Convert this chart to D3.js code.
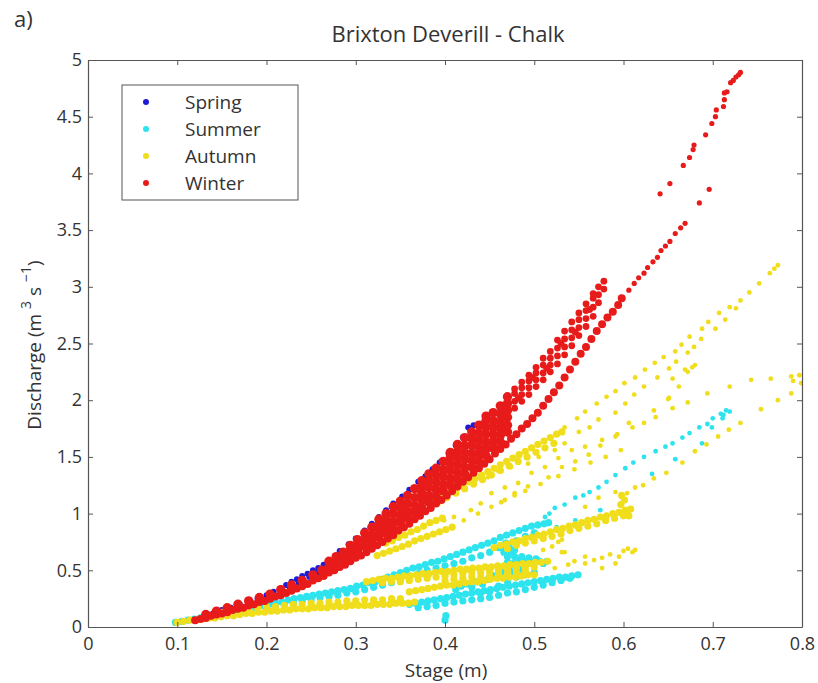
<!DOCTYPE html>
<html>
<head>
<meta charset="utf-8">
<script src="https://cdn.jsdelivr.net/npm/d3@7"></script>
<style>
  body { margin: 0; background: #fff; }
  text { font-family: "Open Sans", sans-serif; fill: #333; }
</style>
</head>
<body>
<svg id="chart"></svg>
<script>
// axis ticks
const xTicks = [0, 0.1, 0.2, 0.3, 0.4, 0.5, 0.6, 0.7, 0.8];
const yTicks = [0, 0.5, 1, 1.5, 2, 2.5, 3, 3.5, 4, 4.5, 5];

const seasons = ["Spring", "Summer", "Autumn", "Winter"];
const seasonColors = ["#1c1cd6", "#2de3ee", "#f0de1c", "#e81b1b"];

// [stage (m), discharge (m3/s)]
const springPts = [[0.140,0.12],[0.150,0.15],[0.160,0.17],[0.170,0.20],[0.180,0.22],[0.190,0.25],[0.200,0.28],[0.208,0.31],[0.216,0.34],[0.222,0.37],[0.228,0.40],[0.234,0.42],[0.240,0.45],[0.246,0.47],[0.252,0.50],[0.258,0.52],[0.264,0.55],[0.270,0.58],[0.226,0.35],[0.236,0.39],[0.248,0.44],[0.258,0.48],[0.268,0.52],[0.276,0.57],
  [0.282,0.67],[0.292,0.73],[0.300,0.78],[0.310,0.85],[0.318,0.91],[0.326,0.97],[0.334,1.03],[0.342,1.09],[0.352,1.15],[0.360,1.21],[0.370,1.28],[0.378,1.33],[0.386,1.39],[0.394,1.45],[0.404,1.53],[0.412,1.60],[0.420,1.67],[0.426,1.76],[0.432,1.78],[0.440,1.79],[0.447,1.77],[0.455,1.82]];

const summerMain = [[0.098,0.04],[0.105,0.05],[0.112,0.06],[0.119,0.07],[0.126,0.08],[0.133,0.09],[0.140,0.10],[0.147,0.11],[0.154,0.12],[0.161,0.13],[0.168,0.14],[0.175,0.15],[0.182,0.17],[0.189,0.18],[0.196,0.19],[0.203,0.20],[0.210,0.21],[0.217,0.22],[0.224,0.24],[0.231,0.25],[0.238,0.26],[0.245,0.27],[0.252,0.28],[0.259,0.29],[0.266,0.30],[0.273,0.31],[0.280,0.32],[0.287,0.33],[0.294,0.34],[0.301,0.36],[0.308,0.37],[0.315,0.39],[0.322,0.40],[0.329,0.42],[0.336,0.44],[0.343,0.46],[0.350,0.48],[0.357,0.50],[0.364,0.52],[0.371,0.53],[0.378,0.55],[0.385,0.57],[0.392,0.58],[0.399,0.60],[0.406,0.62],[0.413,0.64],[0.420,0.66],[0.427,0.68],[0.434,0.70],[0.441,0.72],[0.448,0.74],[0.455,0.76],[0.462,0.79],[0.469,0.81],[0.476,0.83],[0.483,0.85],[0.490,0.87],[0.497,0.89],[0.504,0.90],[0.511,0.91],[0.516,0.92],
  [0.170,0.12],[0.180,0.14],[0.190,0.15],[0.200,0.17],[0.210,0.18],[0.220,0.20],[0.230,0.21],[0.240,0.23],[0.250,0.24],[0.260,0.26],[0.270,0.27],[0.280,0.28],[0.290,0.30],[0.300,0.31],[0.310,0.33],[0.320,0.35],[0.330,0.37],[0.340,0.39],[0.350,0.43],[0.360,0.45],[0.370,0.47],[0.380,0.50],[0.390,0.52],[0.400,0.54],[0.410,0.56],[0.420,0.58],[0.430,0.61],[0.440,0.63],[0.450,0.66],[0.460,0.70],[0.470,0.73],[0.480,0.76],[0.490,0.80],[0.500,0.83]];
const summerLow = [[0.360,0.20],[0.367,0.21],[0.374,0.22],[0.381,0.23],[0.388,0.24],[0.395,0.25],[0.402,0.26],[0.409,0.27],[0.416,0.28],[0.423,0.29],[0.430,0.30],[0.437,0.31],[0.444,0.32],[0.451,0.33],[0.458,0.34],[0.465,0.35],[0.472,0.36],[0.479,0.37],[0.486,0.38],[0.493,0.39],[0.500,0.40],[0.507,0.41],[0.514,0.42],[0.521,0.43],[0.528,0.44],[0.535,0.44],[0.542,0.45],[0.549,0.46],
  [0.370,0.17],[0.380,0.18],[0.390,0.19],[0.400,0.21],[0.410,0.22],[0.420,0.23],[0.430,0.24],[0.440,0.25],[0.450,0.26],[0.460,0.28],[0.470,0.30],[0.480,0.31],[0.490,0.33],[0.500,0.35],[0.510,0.37],[0.520,0.39],[0.530,0.41],[0.540,0.43],
  [0.400,0.06],[0.401,0.10],[0.412,0.33],[0.418,0.36],[0.424,0.38],[0.430,0.35],[0.436,0.40],[0.442,0.38],[0.448,0.42],[0.454,0.45],[0.460,0.47],[0.466,0.49],[0.472,0.52],[0.478,0.48],[0.484,0.50],[0.440,0.30],[0.450,0.31],[0.460,0.36],[0.470,0.40],[0.480,0.44],[0.490,0.46],[0.500,0.48]];
const summerBlob = [[0.462,0.70],[0.466,0.66],[0.470,0.62],[0.474,0.66],[0.478,0.62],[0.482,0.59],[0.486,0.62],[0.490,0.58],[0.494,0.61],[0.498,0.57],[0.502,0.60],[0.506,0.58],[0.510,0.56],[0.514,0.58],[0.470,0.57],[0.476,0.56],[0.482,0.54],[0.490,0.54],[0.468,0.74],[0.472,0.70],[0.478,0.68]];
const summerSparse = [[0.512,0.97],[0.517,1.00],[0.523,1.05],[0.534,1.08],[0.546,1.14],[0.555,1.16],[0.562,1.19],[0.572,1.23],[0.581,1.28],[0.591,1.34],[0.602,1.40],[0.611,1.45],[0.623,1.50],[0.636,1.55],[0.647,1.59],[0.655,1.62],[0.666,1.67],[0.674,1.71],[0.685,1.76],[0.694,1.79],[0.700,1.84],[0.709,1.88],[0.715,1.91],[0.719,1.90],[0.712,1.87],
  [0.525,0.88],[0.546,0.94],[0.574,1.03],[0.632,1.35],[0.658,1.48],[0.688,1.62],[0.699,1.76],[0.711,1.84]];

const autumnBands = [
  [0.100,0.04],[0.107,0.05],[0.114,0.06],[0.121,0.06],[0.128,0.07],[0.135,0.08],[0.142,0.08],[0.149,0.09],[0.156,0.10],[0.163,0.10],[0.170,0.11],[0.177,0.12],[0.184,0.12],[0.191,0.13],[0.198,0.13],[0.205,0.14],[0.212,0.14],[0.219,0.15],[0.226,0.15],[0.233,0.16],[0.240,0.16],[0.247,0.16],[0.254,0.17],[0.261,0.17],[0.268,0.17],[0.275,0.18],[0.282,0.18],[0.289,0.18],[0.296,0.19],[0.303,0.19],[0.310,0.19],[0.317,0.19],[0.324,0.20],[0.331,0.20],[0.338,0.20],[0.345,0.21],[0.352,0.21],[0.359,0.21],[0.366,0.22],
  [0.150,0.13],[0.160,0.14],[0.170,0.15],[0.180,0.16],[0.190,0.17],[0.200,0.18],[0.210,0.18],[0.220,0.19],[0.230,0.20],[0.240,0.20],[0.250,0.21],[0.260,0.21],[0.270,0.22],[0.280,0.22],[0.290,0.23],[0.300,0.23],[0.310,0.24],[0.320,0.24],[0.330,0.24],[0.340,0.25],[0.350,0.25],
  [0.312,0.40],[0.319,0.41],[0.326,0.42],[0.333,0.43],[0.340,0.43],[0.347,0.44],[0.354,0.45],[0.361,0.45],[0.368,0.46],[0.375,0.47],[0.382,0.47],[0.389,0.48],[0.396,0.49],[0.403,0.49],[0.410,0.50],[0.417,0.51],[0.424,0.51],[0.431,0.52],[0.438,0.52],[0.445,0.53],[0.452,0.53],[0.459,0.54],[0.466,0.54],[0.473,0.55],[0.480,0.55],[0.487,0.56],[0.494,0.56],[0.501,0.57],[0.508,0.57],[0.515,0.58],
  [0.330,0.39],[0.340,0.40],[0.350,0.40],[0.360,0.41],[0.370,0.42],[0.380,0.43],[0.390,0.44],[0.400,0.45],[0.410,0.46],[0.420,0.47],[0.430,0.48],[0.440,0.48],[0.450,0.49],[0.460,0.50],[0.470,0.51],[0.480,0.52],[0.490,0.52],[0.500,0.53],
  [0.360,0.31],[0.367,0.32],[0.374,0.33],[0.381,0.34],[0.388,0.35],[0.395,0.36],[0.402,0.37],[0.409,0.37],[0.416,0.38],[0.423,0.39],[0.430,0.40],[0.437,0.40],[0.444,0.41],[0.451,0.42],[0.458,0.43],[0.465,0.43],[0.472,0.44],[0.479,0.44],[0.486,0.45],[0.493,0.46],[0.500,0.46],
  [0.400,0.41],[0.410,0.42],[0.420,0.43],[0.430,0.44],[0.440,0.44],[0.450,0.45],[0.460,0.46],[0.470,0.47],[0.480,0.48],[0.490,0.49],
  [0.455,0.70],[0.462,0.72],[0.469,0.73],[0.476,0.75],[0.483,0.76],[0.490,0.78],[0.497,0.79],[0.504,0.81],[0.511,0.82],[0.518,0.84],[0.525,0.86],[0.532,0.87],[0.539,0.89],[0.546,0.90],[0.553,0.92],[0.560,0.94],[0.567,0.95],[0.574,0.97],[0.581,0.98],[0.588,1.00],[0.595,1.01],[0.602,1.03],[0.608,1.04],[0.597,1.08],[0.601,1.12],[0.598,1.16],[0.606,0.98],[0.604,1.00],
  [0.470,0.69],[0.480,0.72],[0.490,0.74],[0.500,0.76],[0.510,0.78],[0.520,0.80],[0.530,0.82],[0.540,0.85],[0.550,0.87],[0.560,0.89],[0.570,0.91],[0.580,0.94],[0.590,0.96],[0.600,0.98],
  [0.385,1.12],[0.392,1.14],[0.399,1.17],[0.406,1.19],[0.413,1.22],[0.420,1.25],[0.427,1.28],[0.434,1.31],[0.441,1.34],[0.448,1.37],[0.455,1.40],[0.462,1.43],[0.469,1.46],[0.476,1.49],[0.483,1.52],[0.490,1.55],[0.497,1.58],[0.504,1.61],[0.511,1.64],[0.518,1.67],[0.525,1.70],[0.531,1.72],
  [0.392,1.10],[0.402,1.14],[0.412,1.18],[0.422,1.22],[0.432,1.26],[0.442,1.30],[0.452,1.34],[0.462,1.38],[0.472,1.42],[0.482,1.46],[0.492,1.50],[0.502,1.54],[0.512,1.58],[0.522,1.62],
  [0.324,0.63],[0.331,0.65],[0.338,0.67],[0.345,0.69],[0.352,0.71],[0.359,0.73],[0.366,0.76],[0.373,0.78],[0.380,0.80],[0.387,0.82],[0.394,0.84],[0.401,0.86],[0.408,0.88],
  [0.334,0.74],[0.341,0.76],[0.348,0.79],[0.355,0.81],[0.362,0.84],[0.369,0.86],[0.376,0.89],[0.383,0.92],[0.390,0.94],[0.397,0.96]];
const autumnSparse = [
  [0.534,1.76],[0.548,1.84],[0.557,1.90],[0.570,1.97],[0.581,2.03],[0.591,2.08],[0.601,2.15],[0.613,2.20],[0.624,2.27],[0.635,2.33],[0.645,2.38],[0.658,2.43],[0.665,2.49],[0.674,2.56],[0.688,2.63],[0.695,2.69],[0.707,2.77],[0.719,2.82],[0.731,2.88],[0.741,2.95],[0.752,3.03],[0.764,3.12],[0.769,3.16],[0.773,3.19],
  [0.421,1.21],[0.433,1.27],[0.448,1.32],[0.459,1.38],[0.474,1.41],[0.493,1.44],[0.505,1.50],[0.523,1.56],[0.534,1.62],[0.550,1.72],[0.562,1.76],[0.572,1.83],[0.591,1.89],[0.602,1.97],[0.612,2.05],[0.623,2.12],[0.638,2.20],[0.651,2.28],[0.659,2.34],[0.672,2.42],[0.679,2.47],[0.687,2.54],[0.703,2.63],[0.714,2.71],[0.726,2.81],
  [0.399,0.94],[0.410,0.97],[0.429,1.03],[0.440,1.09],[0.452,1.18],[0.467,1.23],[0.482,1.27],[0.497,1.36],[0.512,1.41],[0.527,1.49],[0.542,1.56],[0.557,1.59],[0.576,1.65],[0.591,1.68],[0.606,1.80],[0.623,1.80],[0.634,1.91],[0.651,2.02],[0.662,2.12],[0.655,2.19],[0.669,2.27],[0.677,2.29],[0.672,2.25],[0.680,2.31],
  [0.407,0.88],[0.421,0.94],[0.437,1.00],[0.452,1.06],[0.467,1.12],[0.478,1.18],[0.493,1.24],[0.516,1.32],[0.531,1.41],[0.546,1.46],[0.561,1.52],[0.574,1.60],[0.593,1.70],[0.610,1.76],[0.636,1.85],[0.655,1.93],[0.672,1.98],[0.650,2.01],
  [0.557,1.06],[0.572,1.14],[0.591,1.19],[0.604,1.18],[0.613,1.23],[0.622,1.25],[0.634,1.31],[0.648,1.36],[0.666,1.45],[0.680,1.55],[0.693,1.61],[0.706,1.68],[0.718,1.74],[0.731,1.80],[0.754,1.92],[0.773,2.00],
  [0.694,2.06],[0.719,2.12],[0.743,2.18],[0.765,2.19],[0.788,2.21],[0.797,2.22],[0.788,2.06],[0.799,2.15],[0.790,2.17],
  [0.463,1.10],[0.478,1.16],[0.490,1.20],[0.507,1.26],[0.527,1.33],[0.545,1.39],[0.563,1.45],[0.580,1.50],[0.597,1.56],
  [0.523,0.52],[0.538,0.55],[0.557,0.56],[0.576,0.61],[0.595,0.62],[0.613,0.68],[0.557,0.62],[0.576,0.52],[0.591,0.56],[0.605,0.69],[0.610,0.66],[0.545,0.58],[0.567,0.59],[0.585,0.64],[0.600,0.67],
  [0.531,0.77],[0.531,0.66],[0.527,0.75],[0.534,0.66],[0.510,0.68],[0.520,0.71]];

const winterLower = [[0.120,0.06],[0.126,0.07],[0.132,0.08],[0.138,0.10],[0.144,0.11],[0.150,0.12],[0.156,0.13],[0.162,0.15],[0.168,0.16],[0.174,0.17],[0.180,0.19],[0.186,0.20],[0.192,0.22],[0.198,0.23],[0.204,0.25],[0.210,0.27],[0.216,0.28],[0.222,0.30],[0.228,0.32],[0.234,0.34],[0.240,0.36],[0.246,0.38],[0.252,0.41],[0.258,0.43],[0.264,0.45],[0.270,0.48],[0.276,0.50],[0.282,0.53],[0.288,0.55],[0.294,0.58],[0.300,0.61],[0.306,0.63],[0.312,0.66],[0.318,0.69],[0.324,0.72],[0.330,0.75],[0.336,0.78],[0.342,0.81],[0.348,0.85],[0.354,0.88],[0.360,0.91],[0.366,0.95],[0.372,0.98],[0.378,1.02],[0.384,1.05],[0.390,1.09],[0.396,1.12],[0.402,1.16],[0.408,1.20],[0.414,1.24],[0.420,1.28],[0.426,1.32],[0.432,1.36],[0.438,1.40],[0.444,1.44],[0.450,1.48],[0.456,1.53],[0.462,1.57],[0.468,1.61],[0.474,1.66],[0.480,1.70],[0.486,1.75],[0.492,1.79],[0.498,1.84],[0.504,1.89],[0.510,1.95],[0.516,2.01],[0.522,2.07],[0.528,2.13],[0.534,2.20],[0.540,2.27],[0.546,2.34],[0.552,2.41],[0.558,2.47],[0.564,2.54],[0.570,2.61],[0.576,2.67],[0.582,2.73],[0.588,2.78],[0.594,2.84],[0.598,2.90]];
const winterMass = [[0.132,0.11],[0.144,0.14],[0.156,0.17],[0.168,0.20],[0.180,0.23],[0.192,0.26],[0.204,0.29],[0.216,0.33],[0.228,0.37],[0.240,0.41],[0.252,0.46],[0.262,0.50],
  [0.270,0.53],[0.270,0.58],[0.278,0.56],[0.278,0.62],[0.286,0.60],[0.286,0.66],
  [0.294,0.63],[0.294,0.68],[0.294,0.72],[0.302,0.67],[0.302,0.72],[0.302,0.77],
  [0.310,0.71],[0.310,0.77],[0.310,0.83],[0.318,0.75],[0.318,0.81],[0.318,0.88],
  [0.326,0.79],[0.326,0.85],[0.326,0.91],[0.326,0.95],[0.334,0.83],[0.334,0.89],[0.334,0.95],[0.334,1.00],
  [0.342,0.87],[0.342,0.93],[0.342,1.00],[0.342,1.06],[0.350,0.92],[0.350,0.98],[0.350,1.05],[0.350,1.11],
  [0.358,0.96],[0.358,1.02],[0.358,1.09],[0.358,1.16],[0.366,1.01],[0.366,1.07],[0.366,1.14],[0.366,1.22],
  [0.374,1.05],[0.374,1.12],[0.374,1.18],[0.374,1.24],[0.374,1.29],[0.382,1.10],[0.382,1.16],[0.382,1.23],[0.382,1.29],[0.382,1.35],
  [0.390,1.15],[0.390,1.21],[0.390,1.28],[0.390,1.34],[0.390,1.40],[0.398,1.20],[0.398,1.26],[0.398,1.33],[0.398,1.39],[0.398,1.46],
  [0.406,1.25],[0.406,1.31],[0.406,1.38],[0.406,1.44],[0.406,1.50],[0.406,1.54],[0.414,1.30],[0.414,1.36],[0.414,1.43],[0.414,1.49],[0.414,1.55],[0.414,1.61],
  [0.422,1.35],[0.422,1.41],[0.422,1.48],[0.422,1.54],[0.422,1.60],[0.422,1.67],[0.430,1.41],[0.430,1.47],[0.430,1.53],[0.430,1.60],[0.430,1.66],[0.430,1.72],
  [0.438,1.46],[0.438,1.52],[0.438,1.58],[0.438,1.65],[0.438,1.71],[0.438,1.78],[0.446,1.51],[0.446,1.57],[0.446,1.63],[0.446,1.70],[0.446,1.76],[0.446,1.82],[0.446,1.86],
  [0.454,1.58],[0.454,1.64],[0.454,1.70],[0.454,1.76],[0.454,1.82],[0.454,1.89],[0.462,1.63],[0.462,1.69],[0.462,1.75],[0.462,1.81],[0.462,1.88],[0.462,1.95],
  [0.470,1.72],[0.470,1.78],[0.470,1.85],[0.470,1.91],[0.470,1.97],[0.470,2.03]];
const winterUpper = [[0.478,1.93],[0.478,1.99],[0.478,2.06],[0.478,2.10],[0.486,1.99],[0.486,2.05],[0.486,2.11],[0.486,2.16],
  [0.494,2.05],[0.494,2.11],[0.494,2.17],[0.494,2.22],[0.502,2.12],[0.502,2.18],[0.502,2.24],[0.502,2.29],
  [0.510,2.18],[0.510,2.24],[0.510,2.31],[0.510,2.37],[0.518,2.25],[0.518,2.31],[0.518,2.37],[0.518,2.43],
  [0.526,2.32],[0.526,2.39],[0.526,2.46],[0.526,2.53],[0.534,2.40],[0.534,2.47],[0.534,2.54],[0.534,2.61],
  [0.542,2.48],[0.542,2.55],[0.542,2.62],[0.542,2.69],[0.550,2.57],[0.550,2.64],[0.550,2.71],[0.550,2.77],
  [0.558,2.65],[0.558,2.72],[0.558,2.79],[0.558,2.85],[0.566,2.74],[0.566,2.82],[0.566,2.90],[0.566,2.94],
  [0.572,2.86],[0.572,2.93],[0.572,3.00],[0.578,2.98],[0.578,3.05],
  [0.482,2.02],[0.498,2.20],[0.514,2.28],[0.530,2.50],[0.546,2.60],[0.562,2.80]];
const winterSparse = [[0.606,2.97],[0.612,3.03],[0.617,3.08],[0.623,3.12],[0.627,3.17],[0.633,3.22],[0.638,3.26],[0.642,3.32],[0.647,3.36],[0.652,3.40],[0.658,3.47],[0.664,3.52],[0.669,3.56],
  [0.641,3.82],[0.652,3.91],[0.685,3.74],[0.696,3.86],[0.667,4.07],[0.674,4.14],[0.678,4.21],[0.679,4.25],[0.692,4.34],[0.699,4.44],[0.703,4.50],[0.704,4.56],[0.712,4.59],[0.713,4.65],[0.713,4.71],[0.716,4.72],[0.720,4.80],[0.723,4.82],[0.726,4.85],[0.729,4.87],[0.731,4.89]];

const groups = [
  { season: 0, pts: springPts, r: 3.0 },
  { season: 1, pts: summerMain, r: 3.6 },
  { season: 1, pts: summerLow, r: 3.6 },
  { season: 1, pts: summerBlob, r: 3.6 },
  { season: 1, pts: summerSparse, r: 2.4 },
  { season: 2, pts: autumnBands, r: 3.6 },
  { season: 2, pts: autumnSparse, r: 2.4 },
  { season: 3, pts: winterLower, r: 4.0 },
  { season: 3, pts: winterMass, r: 4.7 },
  { season: 3, pts: winterUpper, r: 3.4 },
  { season: 3, pts: winterSparse, r: 2.6 }
];

const width = 818;
const height = 683;

const svg = d3.select("#chart")
    .attr("width", width)
    .attr("height", height);

const xScale = d3.scaleLinear().domain([0, 0.8]).range([88, 802]);
const yScale = d3.scaleLinear().domain([0, 5]).range([627, 60]);

svg.append("clipPath").attr("id", "plotclip")
    .append("rect")
    .attr("x", 88).attr("y", 60)
    .attr("width", 714).attr("height", 567);

const fmt = d => String(d);

// points, drawn in legend order so winter sits on top
const plot = svg.append("g").attr("clip-path", "url(#plotclip)");
groups.forEach(g => {
    plot.append("g")
        .selectAll("circle")
        .data(g.pts)
        .enter()
        .append("circle")
        .attr("cx", d => xScale(d[0]))
        .attr("cy", d => yScale(d[1]))
        .attr("r", g.r)
        .attr("fill", seasonColors[g.season]);
});

// box with inward ticks
const axisStyle = sel => {
    sel.selectAll("path").attr("stroke", "#555");
    sel.selectAll("line").attr("stroke", "#555");
    sel.selectAll("text").style("font-size", "18px").attr("fill", "#333");
};

svg.append("g")
    .attr("transform", "translate(0,627)")
    .call(d3.axisBottom(xScale).tickValues(xTicks).tickFormat(fmt).tickSizeInner(-5).tickSizeOuter(0).tickPadding(10))
    .call(axisStyle);

svg.append("g")
    .attr("transform", "translate(0,60)")
    .call(d3.axisTop(xScale).tickValues(xTicks).tickFormat("").tickSizeInner(-5).tickSizeOuter(0))
    .call(axisStyle);

svg.append("g")
    .attr("transform", "translate(88,0)")
    .call(d3.axisLeft(yScale).tickValues(yTicks).tickFormat(fmt).tickSizeInner(-5).tickSizeOuter(0).tickPadding(6))
    .call(axisStyle);

svg.append("g")
    .attr("transform", "translate(802,0)")
    .call(d3.axisRight(yScale).tickValues(yTicks).tickFormat("").tickSizeInner(-5).tickSizeOuter(0))
    .call(axisStyle);

svg.selectAll(".domain").attr("stroke-width", 1.2);

// titles
svg.append("text")
    .attr("x", 14).attr("y", 27)
    .style("font-size", "22px")
    .text("a)");

svg.append("text")
    .attr("x", 448).attr("y", 42)
    .attr("text-anchor", "middle")
    .style("font-size", "22px")
    .text("Brixton Deverill - Chalk");

svg.append("text")
    .attr("x", 446).attr("y", 677)
    .attr("text-anchor", "middle")
    .style("font-size", "19px")
    .text("Stage (m)");

const yLabel = svg.append("text")
    .attr("transform", "translate(41,345) rotate(-90)")
    .attr("text-anchor", "middle")
    .style("font-size", "19px");
yLabel.append("tspan").text("Discharge (m ");
yLabel.append("tspan").attr("dy", -10).style("font-size", "14px").text("3");
yLabel.append("tspan").attr("dy", 10).text(" s ");
yLabel.append("tspan").attr("dy", -10).style("font-size", "14px").text("\u22121");
yLabel.append("tspan").attr("dy", 10).text(")");

// legend
const legend = svg.append("g");
legend.append("rect")
    .attr("x", 122).attr("y", 85)
    .attr("width", 176).attr("height", 115)
    .attr("fill", "#fff")
    .attr("stroke", "#555")
    .attr("stroke-width", 1);

const legendRows = legend.selectAll(".entry")
    .data(seasons)
    .enter()
    .append("g")
    .attr("class", "entry")
    .attr("transform", (d, i) => `translate(0, ${102 + i * 27})`);

legendRows.append("circle")
    .attr("cx", 146).attr("cy", 0)
    .attr("r", 3)
    .attr("fill", (d, i) => seasonColors[i]);

legendRows.append("text")
    .attr("x", 185).attr("y", 7)
    .style("font-size", "19px")
    .text(d => d);
</script>
</body>
</html>
